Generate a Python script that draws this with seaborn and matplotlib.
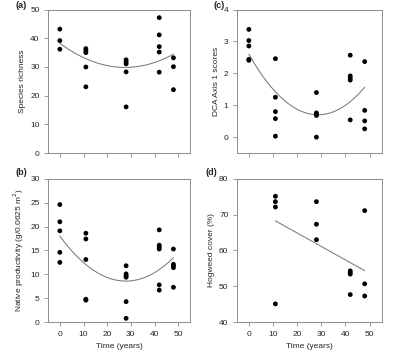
import numpy as np
import pandas as pd
import matplotlib
matplotlib.use('Agg')
import matplotlib.pyplot as plt
import seaborn as sns

# ===== data =====
time_a = [0, 0, 0, 11, 11, 11, 11, 11, 28, 28, 28, 28, 28, 42, 42, 42, 42, 42, 48, 48, 48]
richness = [43.2, 39.2, 36.2, 36.4, 35.7, 35.0, 30.0, 23.1, 32.5, 31.8, 31.1, 28.3, 16.1,
            47.2, 41.2, 37.1, 35.2, 28.2, 33.2, 30.1, 22.1]

time_c = [0, 0, 0, 0, 0, 11, 11, 11, 11, 11, 28, 28, 28, 28, 28, 42, 42, 42, 42, 42, 48, 48, 48, 48]
dca = [3.38, 3.03, 2.86, 2.44, 2.41, 2.46, 1.25, 0.80, 0.58, 0.03, 1.40, 0.76, 0.72, 0.68, 0.0,
       2.57, 1.92, 1.85, 1.79, 0.54, 2.37, 0.84, 0.51, 0.26]

time_b = [0, 0, 0, 0, 0, 11, 11, 11, 11, 11, 28, 28, 28, 28, 28, 28,
          42, 42, 42, 42, 42, 42, 48, 48, 48, 48, 48]
productivity = [24.6, 21.0, 19.1, 14.6, 12.5, 18.6, 17.4, 13.1, 4.8, 4.6,
                11.8, 10.1, 9.7, 9.4, 4.3, 0.8,
                19.3, 16.1, 15.7, 15.3, 7.8, 6.7, 15.3, 12.1, 11.8, 11.4, 7.3]

time_d = [11, 11, 11, 11, 28, 28, 28, 42, 42, 42, 42, 48, 48, 48]
hogweed = [75.1, 73.6, 72.1, 45.1, 73.6, 67.3, 63.0, 54.3, 53.8, 53.4, 47.7, 71.1, 50.7, 47.3]

x_ticks = [0, 10, 20, 30, 40, 50]

sns.set_style('ticks')
plt.rcParams['font.family'] = ['Liberation Sans', 'DejaVu Sans']
plt.rcParams['font.size'] = 6

fig = plt.figure(figsize=(4.0, 3.56), dpi=100)

spine_col = '#8c8c8c'
fit_col = '#7a7a7a'

panels = [
    # (label, label x px, label y px, x, y, order, ylim, yticks, ylabel, pos, show_xlabels)
    ('(a)', 16, 6, time_a, richness, 2, (0, 50), [0, 10, 20, 30, 40, 50], 'Species richness',
     [0.12, 0.570, 0.355, 0.403], False),
    ('(c)', 214, 6, time_c, dca, 2, (-0.5, 4), [0, 1, 2, 3, 4], 'DCA Axis 1 scores',
     [0.592, 0.570, 0.362, 0.403], False),
    ('(b)', 16, 172, time_b, productivity, 2, (0, 30), [0, 5, 10, 15, 20, 25, 30],
     'Native productivity (g/0.0625 m$^2$)', [0.12, 0.095, 0.355, 0.403], True),
    ('(d)', 206, 172, time_d, hogweed, 1, (40, 80), [40, 50, 60, 70, 80], 'Hogweed cover (%)',
     [0.592, 0.095, 0.362, 0.403], True),
]

for label, lx, ly, xs, ys, order, ylim, yticks, ylabel, pos, show_x in panels:
    ax = fig.add_axes(pos)
    df = pd.DataFrame({'t': xs, 'v': ys})
    sns.regplot(data=df, x='t', y='v', order=order, ci=None, scatter=False, ax=ax,
                line_kws=dict(color=fit_col, lw=0.75))
    sns.scatterplot(data=df, x='t', y='v', color='black', s=12, edgecolor='none', ax=ax, zorder=3)
    ax.set_xlim(-5, 55)
    ax.set_ylim(*ylim)
    ax.set_xticks(x_ticks)
    ax.set_yticks(yticks)
    ax.set_ylabel(ylabel, fontsize=6, labelpad=3)
    if show_x:
        ax.set_xlabel('Time (years)', fontsize=6, labelpad=4)
    else:
        ax.set_xlabel('')
        ax.set_xticklabels([])
    for s in ax.spines.values():
        s.set_visible(True)
        s.set_color(spine_col)
        s.set_linewidth(0.7)
    ax.tick_params(direction='out', length=3, width=0.6, color=spine_col,
                   labelsize=6, pad=3)
    # panel letter
    fig.text(lx / 400, 1 - ly / 356, label, fontsize=6.5, fontweight='bold',
             ha='left', va='center')

fig.savefig('out.png', dpi=100)
